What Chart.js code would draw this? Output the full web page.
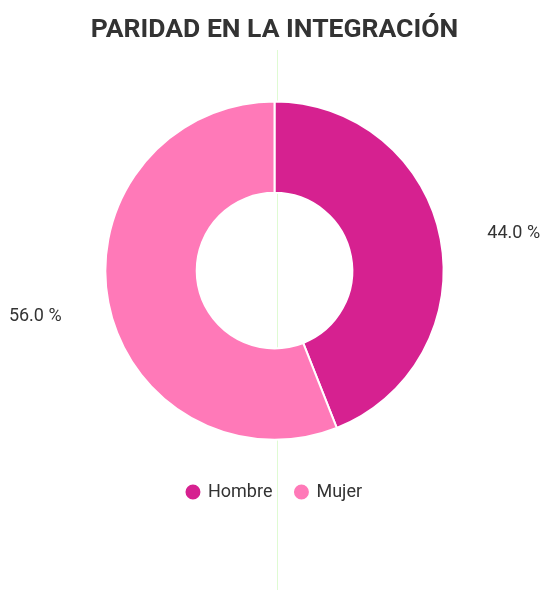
<!DOCTYPE html>
<html>
<head>
<meta charset="utf-8">
<script src="https://cdn.jsdelivr.net/npm/chart.js@4/dist/chart.umd.min.js"></script>
<style>
  html, body { margin: 0; padding: 0; background: #fff; }
  #wrap { width: 545px; height: 590px; }
</style>
</head>
<body>
<div id="wrap"><canvas id="chart"></canvas></div>
<script>
const categories = ["Hombre", "Mujer"];
const values = [44.0, 56.0];
const colors = ["#d62190", "#ff79b8"];
const titleText = "PARIDAD EN LA INTEGRACIÓN";

// percentage labels outside each slice
const outsideLabels = {
  id: "outsideLabels",
  afterDatasetsDraw(chart) {
    const ctx = chart.ctx;
    const meta = chart.getDatasetMeta(0);
    ctx.save();
    ctx.font = "18px Roboto";
    ctx.fillStyle = "#333";
    ctx.textAlign = "center";
    ctx.textBaseline = "middle";
    meta.data.forEach((arc, i) => {
      const mid = (arc.startAngle + arc.endAngle) / 2;
      const r = arc.outerRadius * 1.44;
      ctx.fillText(values[i].toFixed(1) + " %", arc.x + Math.cos(mid) * r, arc.y + Math.sin(mid) * r + (i === 0 ? 8 : 0));
    });
    ctx.restore();
  }
};

// faint guide line seen in the original
const guideLine = {
  id: "guideLine",
  beforeDatasetsDraw(chart) {
    const ctx = chart.ctx;
    const x = Math.round(chart.getDatasetMeta(0).data[0].x) + 2.5;
    ctx.save();
    ctx.strokeStyle = "rgba(215,250,200,0.8)";
    ctx.lineWidth = 1;
    ctx.beginPath();
    ctx.moveTo(x, 50);
    ctx.lineTo(x, chart.height);
    ctx.stroke();
    ctx.restore();
  }
};

new Chart(document.getElementById("chart"), {
  type: "doughnut",
  data: {
    labels: categories,
    datasets: [{
      data: values,
      backgroundColor: colors,
      borderColor: "#fff",
      borderWidth: 2,
      radius: "89.8%",
      cutout: "46%"
    }]
  },
  options: {
    responsive: true,
    maintainAspectRatio: false,
    animation: false,
    layout: { padding: { top: 4, bottom: 79, left: 4, right: 0 } },
    plugins: {
      title: {
        display: true,
        text: titleText,
        color: "#333",
        font: { family: "Roboto", size: 26.5, weight: "bold" },
        padding: { top: 10, bottom: 35.5 }
      },
      legend: {
        position: "bottom",
        labels: {
          usePointStyle: true,
          pointStyle: "circle",
          boxWidth: 12,
          boxHeight: 12,
          padding: 23,
          color: "#333",
          font: { family: "Roboto", size: 18 }
        }
      },
      tooltip: { enabled: false }
    }
  },
  plugins: [outsideLabels, guideLine]
});
</script>
</body>
</html>
